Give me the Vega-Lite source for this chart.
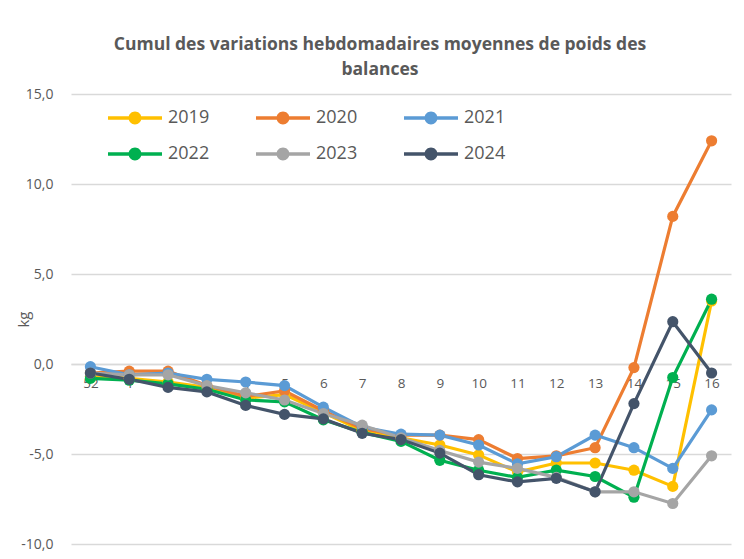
{
  "$schema": "https://vega.github.io/schema/vega-lite/v6.json",
  "autosize": {"type": "none"},
  "width": 660,
  "height": 450,
  "padding": {"left": 71, "top": 94, "right": 13, "bottom": 15},
  "background": "white",
  "title": {
    "text": ["Cumul des variations hebdomadaires moyennes de poids des", "balances"],
    "font": "Open Sans",
    "fontSize": 17.5,
    "fontWeight": "bold",
    "color": "#595959",
    "anchor": "middle",
    "dx": -21,
    "offset": 9,
    "lineHeight": 25
  },
  "data": {
    "values": [
      {"week": "52", "year": "2019", "v": -0.7}, {"week": "1", "year": "2019", "v": -0.8}, {"week": "2", "year": "2019", "v": -1.0}, {"week": "3", "year": "2019", "v": -1.3}, {"week": "4", "year": "2019", "v": -1.9}, {"week": "5", "year": "2019", "v": -1.7}, {"week": "6", "year": "2019", "v": -2.7}, {"week": "7", "year": "2019", "v": -3.7}, {"week": "8", "year": "2019", "v": -4.1}, {"week": "9", "year": "2019", "v": -4.5}, {"week": "10", "year": "2019", "v": -5.05}, {"week": "11", "year": "2019", "v": -6.0}, {"week": "12", "year": "2019", "v": -5.5}, {"week": "13", "year": "2019", "v": -5.5}, {"week": "14", "year": "2019", "v": -5.9}, {"week": "15", "year": "2019", "v": -6.8}, {"week": "16", "year": "2019", "v": 3.5},
      {"week": "52", "year": "2020", "v": -0.5}, {"week": "1", "year": "2020", "v": -0.4}, {"week": "2", "year": "2020", "v": -0.4}, {"week": "3", "year": "2020", "v": -1.2}, {"week": "4", "year": "2020", "v": -1.8}, {"week": "5", "year": "2020", "v": -1.5}, {"week": "6", "year": "2020", "v": -2.6}, {"week": "7", "year": "2020", "v": -3.6}, {"week": "8", "year": "2020", "v": -3.95}, {"week": "9", "year": "2020", "v": -3.95}, {"week": "10", "year": "2020", "v": -4.2}, {"week": "11", "year": "2020", "v": -5.25}, {"week": "12", "year": "2020", "v": -5.1}, {"week": "13", "year": "2020", "v": -4.65}, {"week": "14", "year": "2020", "v": -0.2}, {"week": "15", "year": "2020", "v": 8.2}, {"week": "16", "year": "2020", "v": 12.4},
      {"week": "52", "year": "2021", "v": -0.15}, {"week": "1", "year": "2021", "v": -0.6}, {"week": "2", "year": "2021", "v": -0.5}, {"week": "3", "year": "2021", "v": -0.85}, {"week": "4", "year": "2021", "v": -1.0}, {"week": "5", "year": "2021", "v": -1.2}, {"week": "6", "year": "2021", "v": -2.4}, {"week": "7", "year": "2021", "v": -3.5}, {"week": "8", "year": "2021", "v": -3.9}, {"week": "9", "year": "2021", "v": -3.95}, {"week": "10", "year": "2021", "v": -4.5}, {"week": "11", "year": "2021", "v": -5.55}, {"week": "12", "year": "2021", "v": -5.15}, {"week": "13", "year": "2021", "v": -3.95}, {"week": "14", "year": "2021", "v": -4.65}, {"week": "15", "year": "2021", "v": -5.8}, {"week": "16", "year": "2021", "v": -2.55},
      {"week": "52", "year": "2022", "v": -0.8}, {"week": "1", "year": "2022", "v": -0.9}, {"week": "2", "year": "2022", "v": -1.1}, {"week": "3", "year": "2022", "v": -1.4}, {"week": "4", "year": "2022", "v": -2.0}, {"week": "5", "year": "2022", "v": -2.1}, {"week": "6", "year": "2022", "v": -3.1}, {"week": "7", "year": "2022", "v": -3.8}, {"week": "8", "year": "2022", "v": -4.3}, {"week": "9", "year": "2022", "v": -5.35}, {"week": "10", "year": "2022", "v": -5.9}, {"week": "11", "year": "2022", "v": -6.3}, {"week": "12", "year": "2022", "v": -5.9}, {"week": "13", "year": "2022", "v": -6.25}, {"week": "14", "year": "2022", "v": -7.4}, {"week": "15", "year": "2022", "v": -0.75}, {"week": "16", "year": "2022", "v": 3.6},
      {"week": "52", "year": "2023", "v": -0.5}, {"week": "1", "year": "2023", "v": -0.6}, {"week": "2", "year": "2023", "v": -0.6}, {"week": "3", "year": "2023", "v": -1.2}, {"week": "4", "year": "2023", "v": -1.6}, {"week": "5", "year": "2023", "v": -2.0}, {"week": "6", "year": "2023", "v": -2.75}, {"week": "7", "year": "2023", "v": -3.4}, {"week": "8", "year": "2023", "v": -4.1}, {"week": "9", "year": "2023", "v": -4.8}, {"week": "10", "year": "2023", "v": -5.45}, {"week": "11", "year": "2023", "v": -5.8}, {"week": "12", "year": "2023", "v": -6.3}, {"week": "13", "year": "2023", "v": -7.1}, {"week": "14", "year": "2023", "v": -7.1}, {"week": "15", "year": "2023", "v": -7.75}, {"week": "16", "year": "2023", "v": -5.1},
      {"week": "52", "year": "2024", "v": -0.5}, {"week": "1", "year": "2024", "v": -0.85}, {"week": "2", "year": "2024", "v": -1.3}, {"week": "3", "year": "2024", "v": -1.55}, {"week": "4", "year": "2024", "v": -2.3}, {"week": "5", "year": "2024", "v": -2.8}, {"week": "6", "year": "2024", "v": -3.05}, {"week": "7", "year": "2024", "v": -3.85}, {"week": "8", "year": "2024", "v": -4.2}, {"week": "9", "year": "2024", "v": -4.95}, {"week": "10", "year": "2024", "v": -6.15}, {"week": "11", "year": "2024", "v": -6.55}, {"week": "12", "year": "2024", "v": -6.35}, {"week": "13", "year": "2024", "v": -7.1}, {"week": "14", "year": "2024", "v": -2.2}, {"week": "15", "year": "2024", "v": 2.35}, {"week": "16", "year": "2024", "v": -0.5}
    ]
  },
  "mark": {"type": "line", "strokeWidth": 3.2, "point": {"filled": true, "size": 125, "opacity": 1}},
  "encoding": {
    "x": {
      "field": "week",
      "type": "ordinal",
      "sort": ["52", "1", "2", "3", "4", "5", "6", "7", "8", "9", "10", "11", "12", "13", "14", "15", "16"],
      "scale": {"type": "point", "padding": 0.5},
      "axis": {
        "title": null,
        "labelAngle": 0,
        "offset": -180,
        "ticks": false,
        "labelPadding": 12,
        "domain": true,
        "domainColor": "#d9d9d9",
        "domainWidth": 1.5,
        "grid": false,
        "labelFont": "Open Sans",
        "labelFontSize": 13.5,
        "labelColor": "#595959"
      }
    },
    "y": {
      "field": "v",
      "type": "quantitative",
      "scale": {"domain": [-10, 15], "nice": false, "zero": false},
      "axis": {
        "title": "kg",
        "titleFont": "Open Sans",
        "titleFontSize": 15,
        "titleFontWeight": "normal",
        "titleColor": "#595959",
        "titleX": -48,
        "titleY": 225,
        "titleAngle": -90,
        "titleAlign": "center",
        "titleBaseline": "middle",
        "values": [-10, -5, 0, 5, 10, 15],
        "labelExpr": "replace(replace(format(datum.value, '.1f'), '.', ','), '\u2212', '-')",
        "domain": false,
        "ticks": false,
        "labelPadding": 18,
        "labelFont": "Open Sans",
        "labelFontSize": 14,
        "labelColor": "#595959",
        "grid": true,
        "gridColor": "#d9d9d9",
        "gridWidth": 1.5
      }
    },
    "color": {
      "field": "year",
      "type": "nominal",
      "scale": {
        "domain": ["2019", "2020", "2021", "2022", "2023", "2024"],
        "range": ["#FFC000", "#ED7D31", "#5B9BD5", "#00B050", "#A5A5A5", "#44546A"]
      },
      "legend": {
        "title": null,
        "orient": "none",
        "legendX": 37,
        "legendY": -3,
        "direction": "horizontal",
        "columns": 3,
        "padding": 0,
        "symbolType": "M-1,-0.065H1V0.065H-1Z M0.24,0A0.24,0.24 0 1,1 -0.24,0A0.24,0.24 0 1,1 0.24,0Z",
        "symbolSize": 2916,
        "symbolStrokeWidth": 0,
        "labelFont": "Open Sans",
        "labelFontSize": 18,
        "labelColor": "#595959",
        "labelOffset": 6,
        "columnPadding": 46,
        "rowPadding": -7,
        "encode": {
          "symbols": {
            "update": {
              "fill": {"scale": "color", "field": "value"},
              "fillOpacity": {"value": 1},
              "strokeWidth": {"value": 0}
            }
          }
        }
      }
    }
  },
  "config": {
    "view": {"stroke": null}
  }
}
